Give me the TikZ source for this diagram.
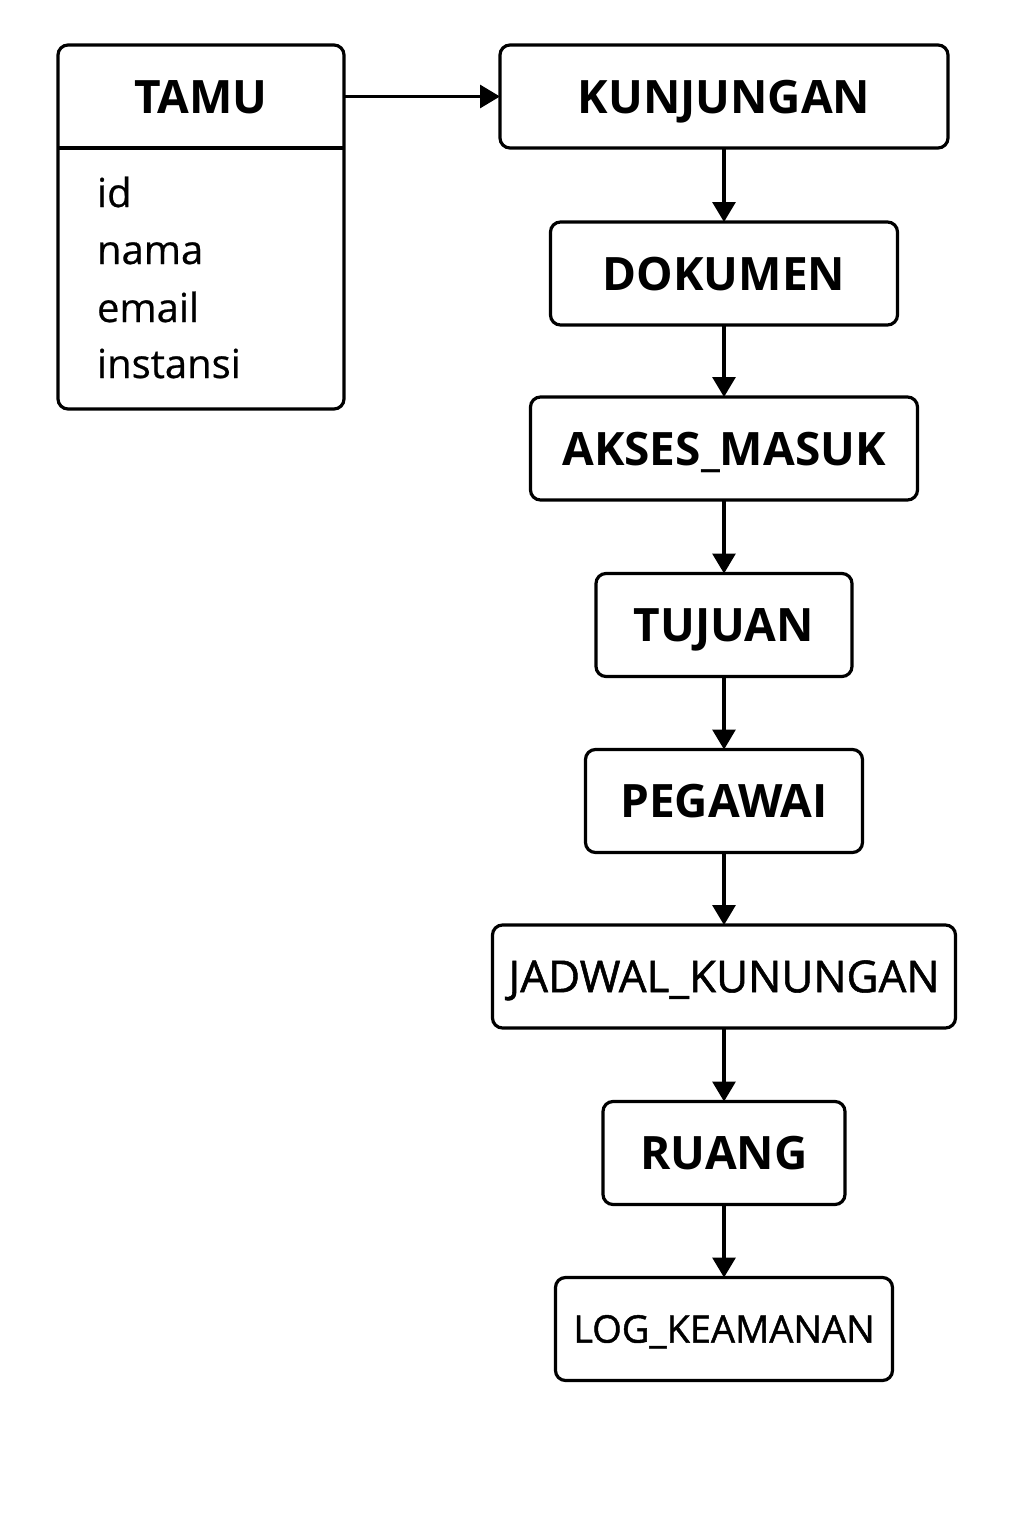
\documentclass[tikz,border=0pt]{standalone}
\usepackage{fontspec}
\setmainfont{Open Sans}
\newfontfamily\mediumfont[FakeBold=1.2]{Open Sans}
\newfontfamily\attrfont[FakeBold=0.6]{Open Sans}
\usetikzlibrary{arrows.meta}
\usetikzlibrary{positioning}
\tikzset{>={Triangle[length=10pt,width=11.5pt]}}
\def\boxthickness{1.6pt}
\tikzset{entity/.style={draw, rounded corners=5pt, line width=\boxthickness, minimum height=51.5pt, inner sep=0pt, outer sep=0pt, text height=16.5pt, text depth=0pt, font=\fontsize{23}{28}\selectfont\bfseries}}
\tikzset{attr/.style={inner sep=0pt, outer sep=0pt, font=\attrfont\fontsize{20}{24}\selectfont}}

\begin{document}
\begin{tikzpicture}[x=0.5pt, y=-0.5pt, ->, line width=\boxthickness]
    \useasboundingbox (0, 0) rectangle (1024, 1536);
    \node[entity, minimum width=143pt, minimum height=182pt] at (201, 227) (tamu) {};
    \node[entity, draw=none, minimum width=143pt] at (201, 96.5) (tamuhead) {TAMU};
    \draw[-] (tamuhead.south west) -- (tamuhead.south east);
    \foreach \attrname/\attry in {id/207, nama/264, email/322, instansi/378}
        \node[attr, anchor=base west] at (97, \attry) (\attrname) {\attrname};
    \node[entity, minimum width=224pt] at (724, 96.5) (kunj) {KUNJUNGAN};
    \node[entity, minimum width=173.5pt] at (724, 273.5) (dok) {DOKUMEN};
    \node[entity, minimum width=193.5pt] at (724, 448.5) (akses) {AKSES\_MASUK};
    \node[entity, minimum width=128pt] at (724, 625) (tujuan) {TUJUAN};
    \node[entity, minimum width=138.5pt] at (724, 801) (pegawai) {PEGAWAI};
    \node[entity, minimum width=231.5pt, text height=15.7pt, font=\mediumfont\fontsize{22}{26}\selectfont] at (724, 976.5) (jadwal) {JADWAL\_KUNUNGAN};
    \node[entity, minimum width=121pt] at (724, 1153) (ruang) {RUANG};
    \node[entity, minimum width=168.5pt, text height=13.6pt, font=\mediumfont\fontsize{19}{23}\selectfont] at (724, 1329) (log) {LOG\_KEAMANAN};
    \draw (tamu.east |- kunj.west) -- (kunj.west);
    \draw (kunj) -- (dok);
    \draw (dok) -- (akses);
    \draw (akses) -- (tujuan);
    \draw (tujuan) -- (pegawai);
    \draw (pegawai) -- (jadwal);
    \draw (jadwal) -- (ruang);
    \draw (ruang) -- (log);
\end{tikzpicture}
\end{document}
